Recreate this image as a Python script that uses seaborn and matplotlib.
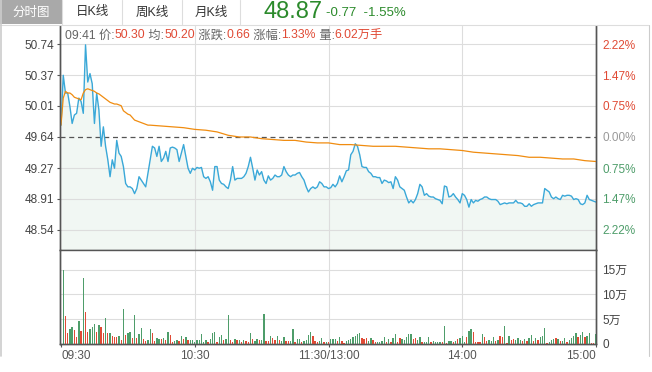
import numpy as np
import pandas as pd
import matplotlib
matplotlib.use("Agg")
import matplotlib.pyplot as plt
import seaborn as sns
from matplotlib.patches import Rectangle
from matplotlib.lines import Line2D
from matplotlib.offsetbox import TextArea, HPacker, AnchoredOffsetbox

pre_close = 49.64

# minute-by-minute price, 09:30 .. 15:00 (241 points)
price = [
    49.78, 50.37, 50.16, 50.16, 50.00, 49.80, 49.90, 49.92, 50.10, 50.06,
    49.92, 50.73, 50.29, 50.39, 50.27, 49.80, 50.16, 49.96, 49.53, 49.76,
    49.53, 49.37, 49.17, 49.37, 49.27, 49.60, 49.45, 49.41, 49.29, 49.09,
    49.05, 49.05, 49.03, 48.97, 49.03, 49.17, 49.13, 49.09, 49.05, 49.21,
    49.37, 49.53, 49.51, 49.41, 49.53, 49.35, 49.39, 49.47, 49.35, 49.51,
    49.52, 49.51, 49.49, 49.35, 49.45, 49.55, 49.41, 49.27, 49.21, 49.27,
    49.25, 49.28, 49.27, 49.28, 49.17, 49.15, 49.17, 49.11, 49.01, 49.29,
    49.29, 49.13, 49.09, 49.08, 49.05, 49.03, 49.13, 49.29, 49.13, 49.15,
    49.15, 49.15, 49.17, 49.21, 49.29, 49.40, 49.27, 49.13, 49.25, 49.19,
    49.23, 49.13, 49.09, 49.18, 49.13, 49.15, 49.19, 49.17, 49.17, 49.19,
    49.29, 49.23, 49.19, 49.17, 49.19, 49.19, 49.21, 49.22, 49.17, 49.13,
    49.05, 48.99, 49.03, 49.05, 49.03, 49.05, 49.11, 49.09, 49.05, 49.05,
    49.03, 49.04, 49.08, 49.05, 49.09, 49.18, 49.11, 49.17, 49.24, 49.25,
    49.43, 49.47, 49.56, 49.53, 49.43, 49.29, 49.28, 49.28, 49.23, 49.21,
    49.17, 49.17, 49.16, 49.16, 49.09, 49.13, 49.12, 49.10, 49.11, 49.03,
    49.17, 49.13, 49.05, 49.03, 49.01, 48.93, 48.86, 48.89, 48.86, 48.90,
    48.97, 49.08, 49.05, 48.95, 48.97, 48.94, 48.93, 48.93, 48.91, 48.90,
    48.89, 48.85, 49.06, 49.05, 48.93, 48.94, 48.97, 48.93, 48.90, 48.86,
    48.97, 48.95, 48.90, 48.81, 48.90, 48.86, 48.89, 48.88, 48.90, 48.91,
    48.93, 48.93, 48.91, 48.90, 48.90, 48.90, 48.88, 48.84, 48.85, 48.86,
    48.85, 48.86, 48.86, 48.86, 48.89, 48.86, 48.86, 48.85, 48.82, 48.82,
    48.85, 48.82, 48.84, 48.85, 48.86, 48.86, 48.86, 49.03, 49.01, 48.99,
    48.93, 48.91, 48.93, 48.91, 48.90, 48.95, 48.94, 48.95, 48.95, 48.94,
    48.90, 48.91, 48.90, 48.85, 48.84, 48.86, 48.95, 48.90, 48.89, 48.88,
    48.87,
]

avg_minute = list(range(41)) + list(range(45, 241, 5))
avg_price = [
    49.78, 50.10, 50.18, 50.16, 50.16, 50.14, 50.11, 50.10, 50.09, 50.08,
    50.16, 50.20, 50.21, 50.20, 50.19, 50.18, 50.16, 50.15, 50.13, 50.11,
    50.09, 50.07, 50.05, 50.04, 50.03, 50.03, 50.02, 50.01, 49.95, 49.93,
    49.91, 49.90, 49.87, 49.84, 49.83, 49.82, 49.81, 49.80, 49.79, 49.78,
    49.78,
    49.77, 49.76, 49.75, 49.73, 49.72, 49.70, 49.66, 49.64, 49.64, 49.62,
    49.61, 49.60, 49.60, 49.58, 49.57, 49.57, 49.55, 49.55, 49.54, 49.53,
    49.53, 49.53, 49.52, 49.51, 49.50, 49.50, 49.49, 49.48, 49.46, 49.45,
    49.44, 49.43, 49.42, 49.40, 49.40, 49.39, 49.38, 49.38, 49.36, 49.35,
]

# volume per minute (万手), minutes 1..240, and bar colour (r = up, g = down)
volume = [
    15.0, 5.7, 2.2, 3.0, 3.5, 2.9, 1.5, 4.7, 2.7, 13.2,
    6.4, 2.5, 3.0, 3.5, 4.1, 2.5, 3.9, 3.4, 2.3, 5.3,
    2.3, 2.3, 1.7, 1.5, 1.4, 1.7, 0.9, 7.1, 1.9, 2.3,
    2.5, 1.2, 5.9, 1.3, 2.1, 3.2, 1.0, 0.7, 0.9, 3.0,
    2.3, 0.7, 1.2, 1.1, 1.1, 1.2, 0.8, 2.5, 1.9, 0.5,
    0.7, 0.8, 0.7, 1.7, 1.0, 1.5, 0.8, 0.9, 0.9, 0.5,
    0.8, 0.8, 2.0, 0.5, 0.8, 0.5, 1.1, 2.3, 2.5, 0.5,
    1.5, 1.9, 0.9, 1.1, 5.9, 0.9, 0.5, 1.0, 0.8, 0.9,
    0.5, 0.8, 0.7, 0.5, 2.3, 1.1, 0.7, 1.1, 0.9, 0.9,
    6.1, 0.7, 0.7, 1.7, 1.2, 0.9, 1.7, 0.8, 0.7, 1.5,
    0.7, 0.7, 0.7, 3.0, 0.5, 1.1, 1.1, 0.5, 0.7, 0.8,
    1.9, 2.5, 1.7, 0.7, 0.5, 0.7, 1.2, 0.5, 0.5, 0.4,
    1.0, 1.1, 1.1, 0.7, 1.5, 0.7, 0.3, 0.7, 0.8, 1.0,
    1.5, 1.7, 2.0, 2.2, 1.2, 1.0, 1.2, 0.7, 1.2, 0.8,
    0.5, 0.5, 0.5, 0.7, 1.5, 0.4, 1.0, 0.5, 1.2, 2.0,
    0.4, 1.2, 1.0, 0.8, 1.4, 2.0, 2.0, 1.0, 1.2, 0.8,
    1.5, 0.4, 0.4, 0.5, 1.5, 0.4, 0.7, 0.5, 0.5, 0.5,
    0.4, 3.7, 0.3, 0.7, 0.7, 0.5, 0.7, 1.0, 1.2, 1.7,
    0.5, 1.5, 2.7, 3.0, 2.4, 0.4, 0.5, 0.5, 2.0, 1.4,
    0.7, 0.8, 0.7, 1.4, 0.7, 0.8, 1.7, 1.5, 3.7, 0.3,
    1.7, 0.8, 1.0, 0.8, 1.2, 0.8, 0.7, 1.1, 0.7, 1.2,
    1.9, 0.7, 1.2, 0.8, 1.5, 1.7, 3.2, 0.3, 0.5, 0.8,
    1.0, 1.2, 1.0, 0.7, 0.7, 1.2, 0.5, 0.8, 1.2, 1.7,
    2.2, 1.5, 1.9, 2.4, 1.5, 1.7, 2.3, 0.3, 0.3, 2.0,
]
direction = (
    "grrggrrgrg" "rrgggrgrrg" "rgrrrgrgrg" "grgrggrrgg" "rrggrgrgrr"
    "ggrgrgrggg" "gggggrgggr" "ggrggrrgrg" "rgrrgrggrg" "grrgrrgrgg"
    "rrggrggrgg" "ggrrrggrgr" "gggrgrrggg" "ggggrrrggr" "rggggrgrgg"
    "rrgggggrrg" "grgggrgggg" "rgrggrgrgg" "grggrrrrgr" "rgggrgrrgr"
    "grrgggrgrg" "grgrgggrgg" "grgrggrggg" "grggrggrrg"
)

price_ticks = [50.74, 50.37, 50.01, 49.64, 49.27, 48.91, 48.54]
pct_labels = ["2.22%", "1.47%", "0.75%", "0.00%", "0.75%", "1.47%", "2.22%"]
vol_ticks = [0, 5, 10, 15]
vol_labels = ["0", "5万", "10万", "15万"]
time_ticks = [0, 60, 120, 180, 240]
time_labels = ["09:30", "10:30", "11:30/13:00", "14:00", "15:00"]

header = [("09:41 价:", "gray"), ("50.30", "red"), (" 均:", "gray"), ("50.20", "red"),
          (" 涨跌:", "gray"), ("0.66", "red"), (" 涨幅:", "gray"), ("1.33%", "red"),
          (" 量:", "gray"), ("6.02万手", "red")]
tabs = ["分时图", "日K线", "周K线", "月K线"]

RED = "#e04a35"
GREEN = "#4e9d6a"
GRAY = "#999999"
DARK = "#444444"
GRID = "#dddddd"
SPINE = "#555555"
BLUE = "#3aa8d8"
ORANGE = "#f08c10"

sns.set_style("white")
plt.rcParams["font.family"] = ["Liberation Sans", "Noto Sans CJK SC", "DejaVu Sans"]
plt.rcParams["font.size"] = 8.5

W, H = 652, 372
fig = plt.figure(figsize=(W / 100, H / 100), dpi=100)
fig.patch.set_facecolor("white")


def fx(x):
    return x / W


def fy(y):
    return 1 - y / H


ax = fig.add_axes([fx(60), fy(250), fx(596) - fx(60), fy(26) - fy(250)])
axv = fig.add_axes([fx(60), fy(344), fx(596) - fx(60), fy(250) - fy(344)])

df_price = pd.DataFrame({"minute": np.arange(len(price)), "price": price})
df_avg = pd.DataFrame({"minute": avg_minute, "avg": avg_price})
df_vol = pd.DataFrame({"minute": np.arange(1, len(volume) + 1), "vol": volume,
                       "dir": list(direction)})

ylo, yhi = 48.303, 50.953
xlo, xhi = -0.45, 240

# price panel
ax.fill_between(df_price["minute"], df_price["price"], ylo, color="#f1f7f3", lw=0, zorder=0.2)
sns.lineplot(data=df_price, x="minute", y="price", ax=ax, color=BLUE, lw=1.0, zorder=3)
sns.lineplot(data=df_avg, x="minute", y="avg", ax=ax, color=ORANGE, lw=0.9, zorder=3)
ax.axhline(pre_close, color="#555555", lw=0.9, ls=(0, (4, 3)), zorder=2)
ax.set_xlim(xlo, xhi)
ax.set_ylim(ylo, yhi)
ax.set_yticks(price_ticks)
ax.set_yticklabels([f"{v:.2f}" for v in price_ticks])
ax.set_xticks([])
ax.set_xlabel("")
ax.set_ylabel("")
ax.set_axisbelow(True)
ax.yaxis.grid(True, color=GRID, lw=0.8)
ax.get_ygridlines()[3].set_visible(False)
for t in time_ticks[1:-1]:
    ax.axvline(t, color=GRID, lw=0.8, zorder=0.5)
ax.tick_params(axis="y", left=True, length=2.5, width=0.8, color=SPINE, pad=1.5,
               labelcolor=DARK, labelsize=8.5)

axr = ax.twinx()
axr.set_ylim(ylo, yhi)
axr.set_yticks(price_ticks)
axr.set_yticklabels(pct_labels)
axr.tick_params(axis="y", right=False, length=0, pad=4.5, labelsize=8.5)
for i, lbl in enumerate(axr.get_yticklabels()):
    lbl.set_color(RED if i < 3 else (GRAY if i == 3 else GREEN))

for a in (ax, axr):
    a.spines["top"].set_visible(False)
    for s in ("left", "right", "bottom"):
        a.spines[s].set_color(SPINE)
        a.spines[s].set_linewidth(1.0)

# volume panel
sns.barplot(data=df_vol, x="minute", y="vol", hue="dir", palette={"r": RED, "g": GREEN},
            native_scale=True, dodge=False, width=0.6, errorbar=None, legend=False,
            saturation=1, linewidth=0, ax=axv, zorder=3)
axv.set_xlim(xlo, xhi)
axv.set_ylim(0, 18.93)
axv.set_xticks(time_ticks)
axv.set_xticklabels(time_labels)
axv.set_yticks([])
axv.set_xlabel("")
axv.set_ylabel("")
for v in vol_ticks[1:]:
    axv.axhline(v, color=GRID, lw=0.8, zorder=0.5)
for t in time_ticks[1:-1]:
    axv.axvline(t, color=GRID, lw=0.8, zorder=0.5)
axv.tick_params(axis="x", bottom=True, length=2.5, width=0.8, color=SPINE, pad=2,
                labelcolor="#555555", labelsize=8.5)
xl = axv.get_xticklabels()
xl[0].set_ha("left")
xl[-1].set_ha("right")

axvr = axv.twinx()
axvr.set_ylim(0, 18.93)
axvr.set_yticks(vol_ticks)
axvr.set_yticklabels(vol_labels)
axvr.tick_params(axis="y", right=False, length=0, pad=4.5, labelcolor=DARK, labelsize=8.5)

for a in (axv, axvr):
    a.spines["top"].set_visible(False)
    for s in ("left", "right", "bottom"):
        a.spines[s].set_color(SPINE)
        a.spines[s].set_linewidth(1.0)

# tab bar
fig.add_artist(Rectangle((0, fy(24)), fx(62), 1 - fy(24), transform=fig.transFigure,
                         facecolor="#a9a9a9", edgecolor="none"))
tab_edges = [0, 62, 122, 182, 240]
for i, name in enumerate(tabs):
    cx = (tab_edges[i] + tab_edges[i + 1]) / 2
    fig.text(fx(cx), fy(12.5), name, ha="center", va="center", fontsize=9,
             color="white" if i == 0 else "#333333")
for xe in tab_edges[1:]:
    fig.add_artist(Line2D([fx(xe), fx(xe)], [fy(0), fy(24)], transform=fig.transFigure,
                          color="#dddddd", lw=0.8))
fig.add_artist(Line2D([0, fx(648)], [fy(24.5), fy(24.5)], transform=fig.transFigure,
                      color="#dddddd", lw=0.8))
fig.add_artist(Line2D([fx(1), fx(1)], [fy(0), fy(356)], transform=fig.transFigure,
                      color="#cccccc", lw=1.2))
fig.add_artist(Line2D([fx(648.5), fx(648.5)], [fy(24.5), fy(356)], transform=fig.transFigure,
                      color="#cccccc", lw=0.8))

fig.text(fx(264), fy(12), "48.87", ha="left", va="center", fontsize=17, color="#2b8a2b")
fig.text(fx(326), fy(12.5), "-0.77  -1.55%", ha="left", va="center", fontsize=9.5, color="#2b8a2b")

# info header
col = {"gray": "#666666", "red": RED}
boxes = [TextArea(t, textprops=dict(color=col[c], fontsize=8.8)) for t, c in header]
pack = HPacker(children=boxes, align="baseline", pad=0, sep=0)
anchor = AnchoredOffsetbox(loc="upper left", child=pack, pad=0, borderpad=0, frameon=False,
                           bbox_to_anchor=(fx(65), fy(29.5)), bbox_transform=fig.transFigure)
fig.add_artist(anchor)

fig.savefig("out.png", dpi=100, facecolor="white")
